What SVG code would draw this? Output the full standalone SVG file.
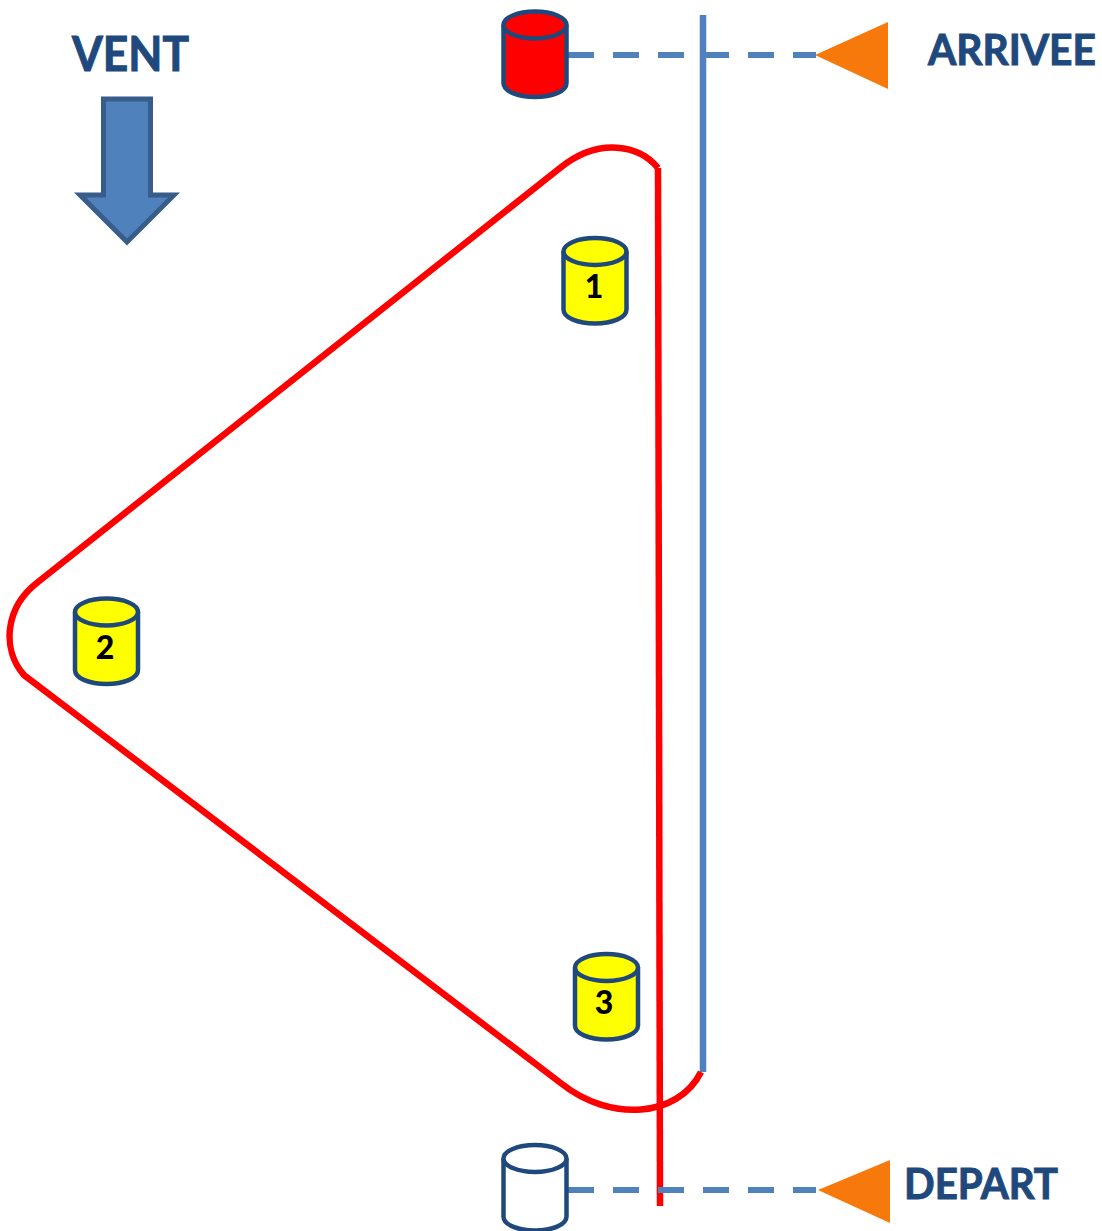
<svg xmlns="http://www.w3.org/2000/svg" width="1102" height="1231" viewBox="0 0 1102 1231">
<style>
.cyl{stroke:#1f497d;stroke-width:4.500}
.lbl{font-family:Lato,"Liberation Sans",sans-serif;font-weight:700;fill:#1f497d;stroke:#1f497d;stroke-width:1}
.num{font-family:Lato,"Liberation Sans",sans-serif;font-weight:900;font-size:32px;fill:#000;text-anchor:middle}
.dash{fill:none;stroke:#4f81bd;stroke-width:6;stroke-dasharray:26 19}
.flag{fill:#f7790b}
</style>
<defs>
<g id="c"><path class="cyl" d="M-31.500-29.500V28.500C-31.500 37-17 42.500 0 42.500S31.500 37 31.500 28.500V-29.500"/><ellipse class="cyl" cx="0" cy="-29.500" rx="31.500" ry="13.500"/></g>
</defs>
<rect width="1102" height="1231" fill="#fff"/>
<g id="connectors" fill="none">
<path d="M703 15V1072" stroke="#4f81bd" stroke-width="6.500"/>
<path d="M658 168L660 1206" stroke="#f00" stroke-width="6.500"/>
<path d="M658 168C640 146 600 136 560 168L38 582C4 608 2 650 24 675L562 1084C610 1122 678 1118 701 1072" stroke="#f00" stroke-width="6.500"/>
<path class="dash" d="M568 55H816"/>
<path class="dash" d="M568 1190H816"/>
</g>
<g id="wind-arrow"><path d="M103.500 99H150.500V195H174L127 242L80 195H103.500Z" fill="#4f81bd" stroke="#385d8a" stroke-width="5"/></g>
<g id="flag-arrivee"><path class="flag" d="M815 55L888 22V89Z"/></g>
<g id="flag-depart"><path class="flag" d="M818 1190L890 1160V1223Z"/></g>
<g id="start-buoy" fill="#fff"><use href="#c" transform="translate(535 1188)"/></g>
<g id="finish-buoy" fill="#f00"><use href="#c" transform="translate(535 54.500)"/></g>
<g id="buoy-1" fill="#ff0"><use href="#c" transform="translate(595 281)"/><text class="num" x="594" y="298">1</text></g>
<g id="buoy-2" fill="#ff0"><use href="#c" transform="translate(106.500 641.500)"/><text class="num" x="105" y="659">2</text></g>
<g id="buoy-3" fill="#ff0"><use href="#c" transform="translate(606.500 997)"/><text class="num" x="604" y="1014">3</text></g>
<text id="vent" class="lbl" x="72" y="71" font-size="47" textLength="117" lengthAdjust="spacingAndGlyphs">VENT</text>
<text id="arrivee" class="lbl" x="928" y="65" font-size="42" textLength="168" lengthAdjust="spacingAndGlyphs">ARRIVEE</text>
<text id="depart" class="lbl" x="904" y="1199" font-size="42" textLength="154" lengthAdjust="spacingAndGlyphs">DEPART</text>
</svg>
